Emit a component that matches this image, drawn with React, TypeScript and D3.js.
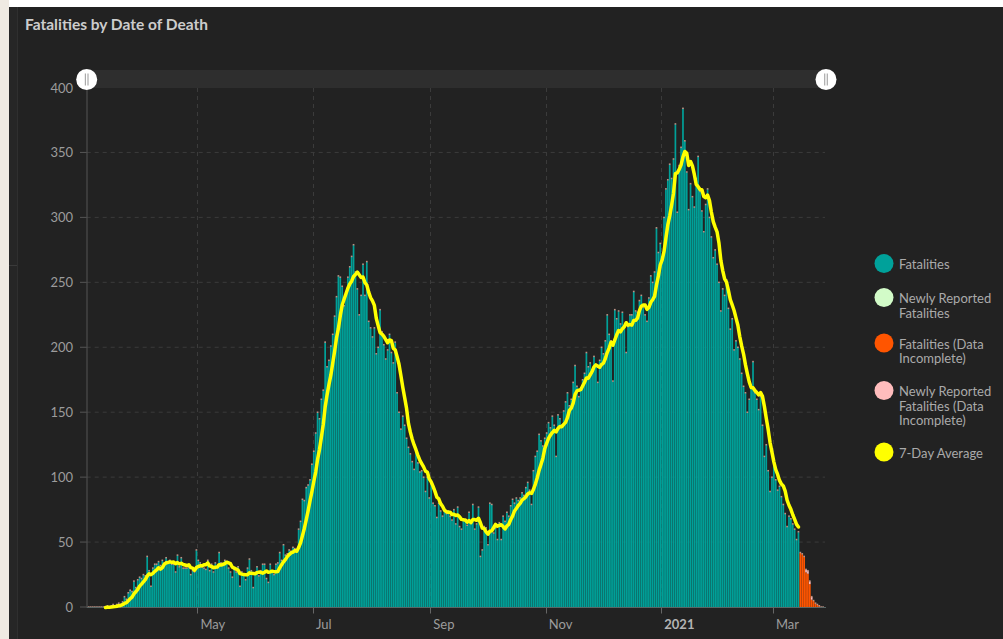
import React, { useEffect, useRef } from "react";
import * as d3 from "d3";

// first day of the series (date of death)
const firstDay = new Date(2020, 2, 4);

// daily fatalities, complete data (Mar 4 2020 .. Mar 14 2021)
const fatalities = [
  0, 0, 0, 0, 0, 0, 0, 0, 0, 0,
  1, 0, 1, 2, 1, 2, 3, 2, 4, 8,
  6, 11, 13, 12, 20, 15, 21, 23, 22, 25,
  24, 39, 28, 16, 30, 33, 33, 35, 32, 36,
  34, 38, 35, 36, 33, 33, 27, 40, 31, 38,
  30, 30, 30, 31, 25, 28, 27, 44, 36, 34,
  31, 30, 29, 36, 28, 33, 27, 34, 31, 42,
  34, 32, 36, 35, 30, 27, 23, 29, 27, 31,
  16, 27, 25, 21, 30, 37, 28, 15, 26, 31,
  24, 28, 33, 33, 22, 19, 33, 28, 25, 33,
  34, 42, 36, 48, 40, 41, 44, 43, 46, 45,
  44, 60, 66, 83, 82, 92, 94, 98, 110, 120,
  134, 150, 145, 160, 167, 204, 185, 190, 201, 210,
  224, 239, 255, 254, 247, 232, 240, 254, 262, 270,
  279, 258, 245, 225, 240, 264, 240, 266, 220, 215,
  208, 215, 195, 200, 229, 212, 202, 191, 198, 210,
  196, 188, 204, 165, 150, 137, 147, 140, 130, 123,
  118, 112, 106, 120, 111, 104, 105, 100, 89, 100,
  84, 95, 80, 78, 69, 80, 74, 70, 74, 72,
  74, 70, 67, 75, 64, 77, 62, 60, 68, 66,
  63, 73, 65, 79, 60, 64, 77, 39, 44, 62,
  61, 48, 80, 79, 57, 61, 52, 65, 52, 70,
  66, 73, 70, 78, 83, 80, 84, 82, 84, 88,
  86, 92, 96, 90, 79, 105, 116, 120, 133, 128,
  124, 130, 134, 142, 138, 147, 140, 116, 148, 145,
  140, 151, 158, 165, 155, 160, 173, 186, 170, 162,
  168, 175, 180, 196, 185, 188, 180, 193, 186, 173,
  190, 200, 195, 205, 225, 210, 205, 174, 229, 222,
  228, 218, 227, 215, 196, 216, 225, 225, 243, 228,
  227, 236, 240, 231, 225, 220, 238, 255, 250, 258,
  292, 273, 280, 266, 300, 322, 329, 341, 330, 345,
  372, 304, 340, 354, 384, 359, 335, 306, 326, 316,
  308, 330, 347, 320, 305, 289, 310, 322, 300, 285,
  269, 275, 264, 250, 228, 245, 240, 252, 230, 214,
  222, 198, 205, 200, 191, 180, 170, 165, 150, 160,
  170, 189, 165, 160, 152, 162, 140, 116, 125, 105,
  89, 100, 110, 98, 90, 93, 85, 79, 72, 62,
  70, 68, 64, 60, 52, 58,
];

// fatalities (data incomplete) + newly reported ones, following days
const incomplete = [42, 41, 39, 27, 26, 18, 6, 5, 3, 2, 1, 0, 0];
const incompleteNew = [0, 0, 0, 2, 2, 2, 2, 0, 0, 0, 0, 0, 0];

const yTicks = [0, 50, 100, 150, 200, 250, 300, 350, 400];
const monthTicks = [
  new Date(2020, 4, 1),
  new Date(2020, 6, 1),
  new Date(2020, 8, 1),
  new Date(2020, 10, 1),
  new Date(2021, 0, 1),
  new Date(2021, 2, 1),
];
const monthLabels = ["May", "Jul", "Sep", "Nov", "2021", "Mar"];

const legendLabels = [
  ["Fatalities"],
  ["Newly Reported", "Fatalities"],
  ["Fatalities (Data", "Incomplete)"],
  ["Newly Reported", "Fatalities (Data", "Incomplete)"],
  ["7-Day Average"],
];
const legendColors = ["#00a19a", "#d2fbc8", "#ff5500", "#ffbcbc", "#ffff00"];

const FONT = "Lato, 'Open Sans', sans-serif";

export default function App() {
  const ref = useRef<SVGSVGElement>(null);

  useEffect(() => {
    const svg = d3.select(ref.current);
    svg.selectAll("*").remove();

    const width = 1003,
      height = 639,
      left = 86.7,
      right = 826,
      top = 88,
      bottom = 607.5;

    // page + panel background
    svg.append("rect").attr("width", width).attr("height", height).attr("fill", "#ffffff");
    svg.append("rect").attr("width", 9).attr("height", height).attr("fill", "#efeae2");
    svg.append("rect").attr("x", 9).attr("y", 7).attr("width", width - 9).attr("height", height - 7).attr("fill", "#222222");
    svg.append("rect").attr("x", 9).attr("y", 7).attr("width", 8).attr("height", height - 7).attr("fill", "#262626");
    svg.append("line").attr("x1", 17.5).attr("x2", 17.5).attr("y1", 7).attr("y2", height).attr("stroke", "#2f2f2f");
    svg.append("line").attr("x1", 9).attr("x2", 17).attr("y1", 265.5).attr("y2", 265.5).attr("stroke", "#3a3a3a");

    svg.append("text")
      .attr("x", 25).attr("y", 30)
      .attr("font-family", FONT).attr("font-size", 15.5).attr("font-weight", 700)
      .attr("fill", "#cccccc")
      .text("Fatalities by Date of Death");

    // scales
    const x = d3.scaleTime()
      .domain([new Date(2020, 2, 3, 12), new Date(2021, 2, 29)])
      .range([left, right]);
    const y = d3.scaleLinear().domain([0, 400]).range([bottom, top]);

    const day = (i: number) => d3.timeDay.offset(firstDay, i);

    // grid
    const grid = svg.append("g").attr("stroke", "#3b3b3b").attr("stroke-dasharray", "4,4");
    grid.selectAll("line.h").data(yTicks.filter(d => d > 0)).enter().append("line")
      .attr("x1", left).attr("x2", right - 1)
      .attr("y1", d => y(d) - 0.5).attr("y2", d => y(d) - 0.5);
    grid.selectAll("line.v").data(monthTicks).enter().append("line")
      .attr("x1", d => Math.round(x(d)) + 0.5).attr("x2", d => Math.round(x(d)) + 0.5)
      .attr("y1", top).attr("y2", bottom);

    // bars
    const barW = (i: number) => (x(day(i + 1)) - x(day(i))) * 0.9;
    svg.append("g").attr("fill", "#00a098")
      .selectAll("rect").data(fatalities).enter().append("rect")
      .attr("x", (d, i) => x(day(i)))
      .attr("y", d => y(d))
      .attr("width", (d, i) => barW(i))
      .attr("height", d => y(0) - y(d));

    const off = fatalities.length;
    svg.append("g").attr("fill", "#ff5500")
      .selectAll("rect").data(incomplete).enter().append("rect")
      .attr("x", (d, i) => x(day(off + i)))
      .attr("y", d => y(d))
      .attr("width", (d, i) => barW(off + i))
      .attr("height", d => y(0) - y(d));
    svg.append("g").attr("fill", "#ffbcbc")
      .selectAll("rect").data(incompleteNew).enter().append("rect")
      .attr("x", (d, i) => x(day(off + i)))
      .attr("y", (d, i) => y(incomplete[i] + d))
      .attr("width", (d, i) => barW(off + i))
      .attr("height", (d, i) => y(incomplete[i]) - y(incomplete[i] + d));

    // small marker on top of each bar
    const all = fatalities.concat(incomplete.map((d, i) => d + incompleteNew[i]));
    svg.append("g").attr("fill", "#d6a596").attr("opacity", 0.85)
      .selectAll("rect").data(all).enter().append("rect")
      .attr("x", (d, i) => x(day(i)))
      .attr("y", d => y(d) - 1.2)
      .attr("width", (d, i) => barW(i))
      .attr("height", 1.5);

    // axes
    svg.append("line").attr("x1", left).attr("x2", right).attr("y1", bottom).attr("y2", bottom)
      .attr("stroke", "#5a6665");
    svg.append("line").attr("x1", left + 0.3).attr("x2", left + 0.3).attr("y1", top).attr("y2", bottom)
      .attr("stroke", "#555555");

    const yAxis = svg.append("g");
    yAxis.selectAll("line").data(yTicks).enter().append("line")
      .attr("x1", 80).attr("x2", left).attr("y1", d => y(d) - 0.5).attr("y2", d => y(d) - 0.5)
      .attr("stroke", "#555555");
    yAxis.selectAll("text").data(yTicks).enter().append("text")
      .attr("x", 73).attr("y", d => y(d) + 4.5)
      .attr("text-anchor", "end")
      .attr("font-family", FONT).attr("font-size", 13).attr("fill", "#9c9c9c")
      .text(d => d);

    const xAxis = svg.append("g");
    xAxis.selectAll("line").data(monthTicks).enter().append("line")
      .attr("x1", d => Math.round(x(d)) + 0.5).attr("x2", d => Math.round(x(d)) + 0.5)
      .attr("y1", bottom).attr("y2", bottom + 6)
      .attr("stroke", "#666666");
    xAxis.selectAll("text").data(monthTicks).enter().append("text")
      .attr("x", d => x(d) + 3).attr("y", 629)
      .attr("font-family", FONT).attr("font-size", 13)
      .attr("font-weight", (d, i) => (monthLabels[i] === "2021" ? 700 : 400))
      .attr("fill", (d, i) => (monthLabels[i] === "2021" ? "#b4b4b4" : "#9c9c9c"))
      .text((d, i) => monthLabels[i]);

    // 7-day average
    const avg = fatalities.map((d, i) => (i < 6 ? 0 : d3.mean(fatalities.slice(i - 6, i + 1)) as number));
    const pts = avg.map((d, i) => ({ i, d })).filter(p => p.i >= 9);
    const line = d3.line<{ i: number; d: number }>()
      .x(p => x(day(p.i)) + barW(p.i) / 2)
      .y(p => y(p.d));
    svg.append("path").datum(pts)
      .attr("d", line)
      .attr("fill", "none").attr("stroke", "#ffff00").attr("stroke-width", 3.5)
      .attr("stroke-linejoin", "round").attr("stroke-linecap", "round");

    // range slider
    svg.append("rect").attr("x", left).attr("y", 70).attr("width", right - left).attr("height", 18)
      .attr("fill", "#2e2e2e");
    const handles = svg.append("g").selectAll("g").data([left, right]).enter().append("g")
      .attr("transform", d => `translate(${d},79.5)`);
    handles.append("circle").attr("r", 10.5).attr("fill", "#ffffff");
    handles.append("line").attr("x1", -1.3).attr("x2", -1.3).attr("y1", -6).attr("y2", 6)
      .attr("stroke", "#aaaaaa").attr("stroke-width", 1.2);
    handles.append("line").attr("x1", 1.3).attr("x2", 1.3).attr("y1", -6).attr("y2", 6)
      .attr("stroke", "#aaaaaa").attr("stroke-width", 1.2);

    // legend
    const legendY = [263.5, 297.5, 343, 390.5, 452];
    const lg = svg.append("g").selectAll("g").data(legendLabels).enter().append("g");
    lg.append("circle")
      .attr("cx", 884).attr("cy", (d, i) => legendY[i]).attr("r", 9.5)
      .attr("fill", (d, i) => legendColors[i]);
    lg.each(function (lines, i) {
      d3.select(this).selectAll("text").data(lines).enter().append("text")
        .attr("x", 899).attr("y", (t, k) => legendY[i] + 5.5 + k * 14.7)
        .attr("font-family", FONT).attr("font-size", 13).attr("fill", "#aaaaaa")
        .text(t => t);
    });
  }, []);

  return (
    <svg
      ref={ref}
      width={1003}
      height={639}
      style={{ position: "absolute", left: 0, top: 0, display: "block" }}
    />
  );
}
